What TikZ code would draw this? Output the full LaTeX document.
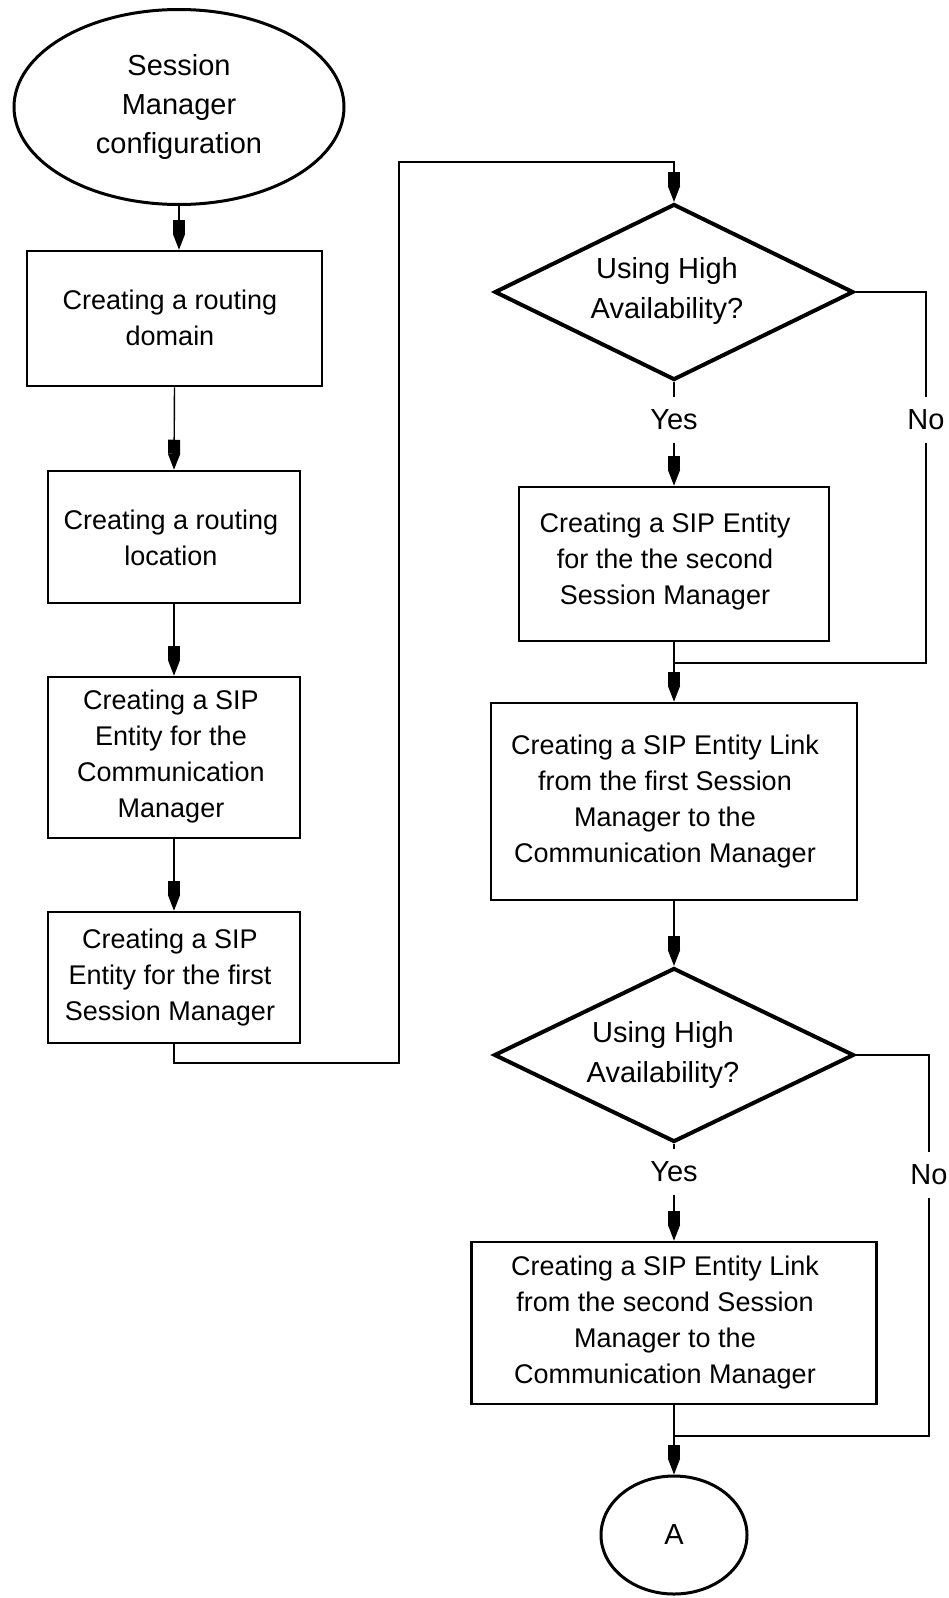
\documentclass[tikz,border=0pt]{standalone}
\usepackage{fontspec}
\setmainfont{Liberation Sans}
\usetikzlibrary{shapes.geometric,arrows.meta}
\begin{document}
\begin{tikzpicture}[x=1pt,y=-1pt,
  conn/.style={line width=1.4pt, draw=black},
  arr/.style={conn, -{Rectangle[length=14pt,width=12pt,sep=0pt]Triangle[length=16pt,width=12pt]}},
  stepbox/.style={draw, line width=2.5pt, inner sep=0pt},
  btxt/.style={align=center, inner sep=0pt, font=\fontsize{27pt}{36pt}\selectfont},
  dia/.style={diamond, draw, line width=4pt, inner sep=0pt},
  dtxt/.style={align=center, inner sep=0pt, font=\fontsize{29pt}{40pt}\selectfont},
  term/.style={ellipse, draw, line width=3pt, inner sep=0pt, align=center, font=\fontsize{29pt}{39pt}\selectfont},
  lbl/.style={inner sep=0pt, minimum height=45pt, font=\fontsize{29pt}{34pt}\selectfont}
]
\useasboundingbox (0,0) rectangle (948,1598);
\fill[white] (0,0) rectangle (948,1598);

% left column
\node[term, minimum width=330pt, minimum height=195pt] (e) at (179,107) {Session\\Manager\\configuration};
\node[stepbox, minimum width=295pt, minimum height=135pt] (b1) at (174.5,318.5) {};
\node[btxt] (t1) at (170,318) {Creating a routing\\domain};
\node[stepbox, minimum width=252pt, minimum height=132pt] (b2) at (174,537) {};
\node[btxt] (t2) at (171,538) {Creating a routing\\location};
\node[stepbox, minimum width=252pt, minimum height=161pt] (b3) at (174,757.5) {};
\node[btxt] (t3) at (171,757) {Creating a SIP\\Entity for the\\Communication\\Manager};
\node[stepbox, minimum width=252pt, minimum height=131pt] (b4) at (174,977.5) {};
\node[btxt] (t4) at (170,978) {Creating a SIP\\Entity for the first\\Session Manager};

% right column
\node[dia, minimum width=359pt, minimum height=176pt] (d1) at (674,292) {};
\node[dtxt] (dt1) at (667,291) {Using High\\Availability?};
\node[lbl] (y1) at (674,420) {Yes};
\node[lbl] (n1) at (926,420) {No};
\node[stepbox, minimum width=310pt, minimum height=154pt] (b5) at (674,564) {};
\node[btxt] (t5) at (665,562) {Creating a SIP Entity\\for the the second\\Session Manager};
\coordinate (m1) at (674,663);
\node[stepbox, minimum width=366pt, minimum height=197pt] (b6) at (674,801.5) {};
\node[btxt] (t6) at (665,802) {Creating a SIP Entity Link\\from the first Session\\Manager to the\\Communication Manager};
\node[dia, minimum width=360pt, minimum height=174pt] (d2) at (674,1055) {};
\node[dtxt] (dt2) at (663,1055) {Using High\\Availability?};
\node[lbl] (y2) at (674,1172) {Yes};
\node[lbl] (n2) at (929,1175) {No};
\node[stepbox, minimum width=405pt, minimum height=162pt] (b7) at (674,1323) {};
\node[btxt] (t7) at (665,1323) {Creating a SIP Entity Link\\from the second Session\\Manager to the\\Communication Manager};
\coordinate (m2) at (674,1436);
\node[term, minimum width=146pt, minimum height=118pt] (a) at (674,1535) {A};

\coordinate (k1) at (399,1063);
\coordinate (k2) at (399,162);

% connectors
\draw[arr] (e.south) -- (e.south |- b1.north);
\draw[arr] (b1.south) -- (b2.north);
\draw[arr] (b2.south) -- (b3.north);
\draw[arr] (b3.south) -- (b4.north);
\draw[arr] (b4.south) |- (k1) -- (k2) -| (d1.north);
\draw[conn] (d1.south) -- (y1.north);
\draw[arr] (y1.south) -- (b5.north);
\draw[conn] (d1.east) -| (n1.north);
\draw[conn] (n1.south) |- (m1);
\draw[arr] (b5.south) -- (b6.north);
\draw[arr] (b6.south) -- (d2.north);
\draw[conn] (d2.south) -- (y2.north);
\draw[arr] (y2.south) -- (b7.north);
\draw[conn] (d2.east) -| (n2.north);
\draw[conn] (n2.south) |- (m2);
\draw[arr] (b7.south) -- (a.north);
\end{tikzpicture}
\end{document}
